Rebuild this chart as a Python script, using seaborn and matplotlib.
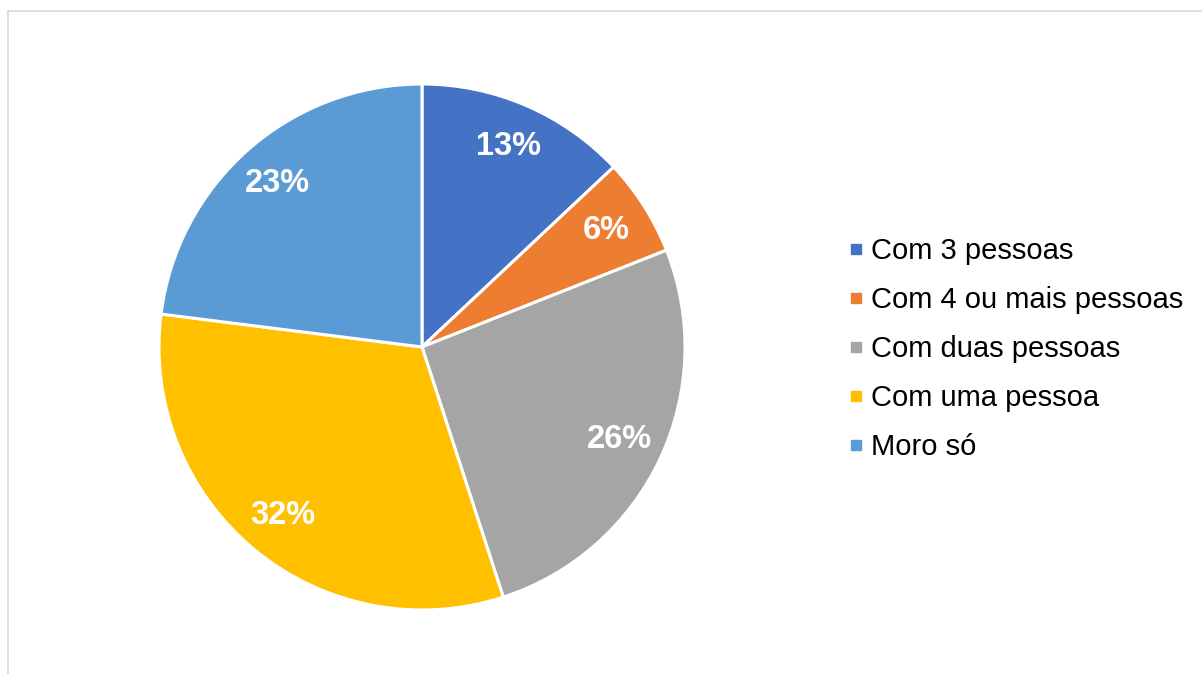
import matplotlib
matplotlib.use("Agg")
import matplotlib.pyplot as plt
from matplotlib.lines import Line2D
import seaborn as sns

# Household composition shares (percent)
categories = ["Com 3 pessoas", "Com 4 ou mais pessoas", "Com duas pessoas",
              "Com uma pessoa", "Moro só"]
shares = [13, 6, 26, 32, 23]
colors = ["#4472C4", "#ED7D31", "#A5A5A5", "#FFC000", "#5B9BD5"]

sns.set_theme(style="white")
plt.rcParams["font.family"] = ["Liberation Sans", "DejaVu Sans"]
palette = sns.color_palette(colors)

W, H = 1202, 674
fig = plt.figure(figsize=(W / 100, H / 100), dpi=100)
fig.patch.set_facecolor("white")

# Square axes holding the pie: centre (422, 347) px, radius 263 px
cx, cy, r = 422, 347, 263
ax = fig.add_axes([(cx - r) / W, (H - cy - r) / H, 2 * r / W, 2 * r / H])
wedges, _, autotexts = ax.pie(
    shares, colors=palette, startangle=90, counterclock=False,
    autopct=lambda p: f"{p:.0f}%", pctdistance=0.83,
    wedgeprops=dict(edgecolor="white", linewidth=2.2),
    textprops=dict(color="white", fontsize=23.5, fontweight="bold"),
)
ax.set_xlim(-1, 1)
ax.set_ylim(-1, 1)
ax.axis("off")

handles = [Line2D([], [], marker="s", linestyle="none", markersize=7.5,
                  markerfacecolor=c, markeredgecolor=c) for c in palette]
leg = fig.legend(handles, categories, loc="center left",
                 bbox_to_anchor=(835 / W, 1 - 349 / H), frameon=False,
                 fontsize=21, handlelength=0.45, handletextpad=0.3,
                 labelspacing=0.72, borderpad=0)
for t in leg.get_texts():
    t.set_color("black")

# Light chart-area border (top and left edges)
border = "#d9d9d9"
fig.add_artist(Line2D([8 / W, 8 / W], [0, 1 - 11 / H], transform=fig.transFigure,
                      color=border, linewidth=1.2))
fig.add_artist(Line2D([8 / W, 1], [1 - 11 / H, 1 - 11 / H], transform=fig.transFigure,
                      color=border, linewidth=1.2))

fig.savefig("out.png", dpi=100, facecolor="white")
